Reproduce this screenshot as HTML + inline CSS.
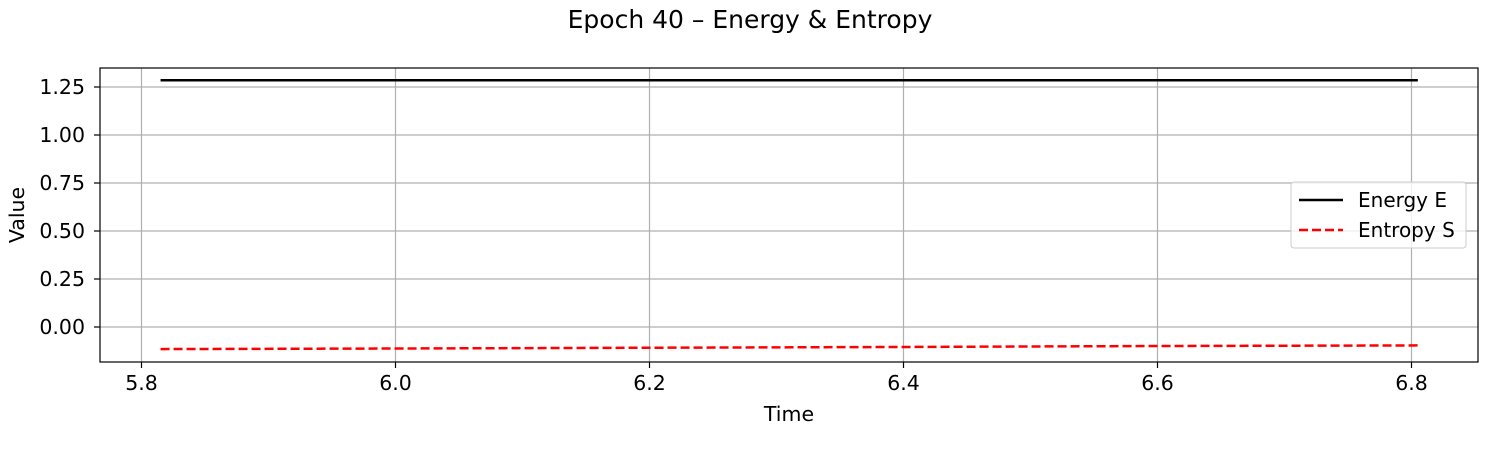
<!DOCTYPE html>
<html><head><meta charset="utf-8"><style>
body{margin:0;background:#fff;}
svg{display:block;font-family:"DejaVu Sans","Liberation Sans",sans-serif;}
</style></head><body>
<svg id="chart" width="1500" height="450">
<text x="750" y="28" text-anchor="middle" font-size="25">Epoch 40 – Energy &amp; Entropy</text>
<g id="grid"></g>
<g id="series"></g>
<rect x="100" y="68" width="1378" height="294" fill="none" stroke="#000" stroke-width="1.2"/>
<g id="ticks" font-size="20.5"></g>
<text x="789" y="421" text-anchor="middle" font-size="20.5">Time</text>
<text transform="translate(24,215) rotate(-90)" text-anchor="middle" font-size="20.5">Value</text>
<g>
<rect x="1291" y="182" width="175" height="66" rx="3" fill="#fff" fill-opacity="0.8" stroke="#ccc"/>
<line x1="1299" y1="200" x2="1343" y2="200" stroke="#000" stroke-width="2.5"/>
<text x="1358" y="207" font-size="20">Energy E</text>
<line x1="1299" y1="230" x2="1343" y2="230" stroke="red" stroke-width="2.5" stroke-dasharray="9,4"/>
<text x="1358" y="237" font-size="20">Entropy S</text>
</g>
</svg>
<script>
const times = [5.815, 6.0, 6.2, 6.4, 6.6, 6.805];
const energy = [1.285, 1.285, 1.285, 1.285, 1.285, 1.285];
const entropy = [-0.115, -0.112, -0.108, -0.104, -0.099, -0.096];
const xTicks = [5.8, 6.0, 6.2, 6.4, 6.6, 6.8];
const yTicks = [0.0, 0.25, 0.5, 0.75, 1.0, 1.25];

const X = v => 141.5 + (v - 5.8) * 1270;
const Y = v => 327 - v * 192;
const NS = "http://www.w3.org/2000/svg";
const grid = document.getElementById('grid');
const ticks = document.getElementById('ticks');
const series = document.getElementById('series');
function mk(tag, attrs, parent){const e=document.createElementNS(NS,tag);for(const k in attrs)e.setAttribute(k,attrs[k]);parent.appendChild(e);return e;}

xTicks.forEach(t=>{
  const gl=mk('line',{x1:X(t),x2:X(t),y1:68,y2:362,stroke:'#b0b0b0','stroke-width':1.2},grid);
  
  
  mk('line',{x1:X(t),x2:X(t),y1:362,y2:368,stroke:'#000','stroke-width':1.2},ticks);
  const tx=mk('text',{x:X(t),y:390,'text-anchor':'middle'},ticks);
  tx.textContent=t.toFixed(1);
  
  
});
yTicks.forEach(t=>{
  const gl=mk('line',{x1:100,x2:1478,y1:Y(t),y2:Y(t),stroke:'#b0b0b0','stroke-width':1.2},grid);
  
  
  mk('line',{x1:94,x2:100,y1:Y(t),y2:Y(t),stroke:'#000','stroke-width':1.2},ticks);
  const tx=mk('text',{x:85,y:Y(t)+7,'text-anchor':'end'},ticks);
  tx.textContent=t.toFixed(2);
  
  
});
const pts = arr => arr.map((v,i)=>X(times[i])+','+Y(v)).join(' ');
const e=mk('polyline',{points:pts(energy),fill:'none',stroke:'#000','stroke-width':2.5},series);


const s=mk('polyline',{points:pts(entropy),fill:'none',stroke:'red','stroke-width':2.5,'stroke-dasharray':'9,4'},series);


</script>
</body></html>
